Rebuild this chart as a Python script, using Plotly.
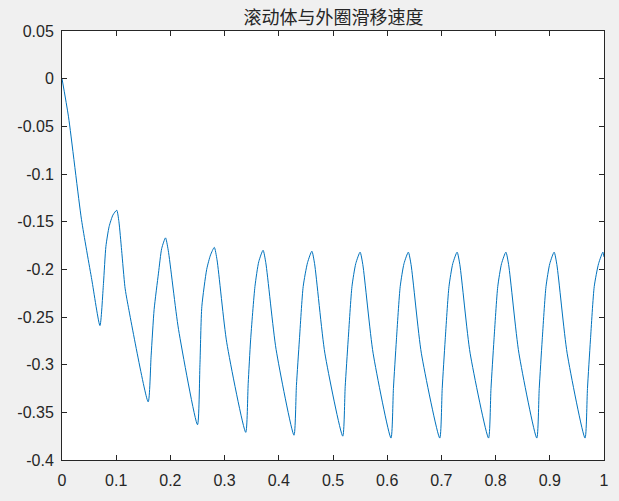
import plotly.graph_objects as go

# Key points (time vs. slip velocity)
t = [0.000, 0.012, 0.036, 0.055, 0.070,
     0.0765, 0.081, 0.087, 0.094, 0.101, 0.105, 0.110, 0.116, 0.119, 0.159,
     0.1645, 0.170, 0.178, 0.184, 0.191, 0.196, 0.215, 0.250,
     0.2545, 0.258, 0.267, 0.274, 0.281, 0.286, 0.304, 0.339,
     0.3435, 0.348, 0.356, 0.363, 0.371, 0.376, 0.395, 0.428,
     0.4325, 0.438, 0.445, 0.453, 0.461, 0.466, 0.485, 0.518,
     0.5225, 0.528, 0.535, 0.542, 0.550, 0.555, 0.574, 0.607,
     0.6115, 0.617, 0.624, 0.631, 0.639, 0.644, 0.663, 0.697,
     0.7015, 0.707, 0.714, 0.721, 0.729, 0.734, 0.753, 0.787,
     0.7915, 0.797, 0.804, 0.811, 0.819, 0.824, 0.843, 0.876,
     0.8805, 0.886, 0.893, 0.900, 0.908, 0.913, 0.932, 0.965,
     0.9695, 0.975, 0.982, 0.990, 0.998, 1.000]
v = [0.000, -0.040, -0.148, -0.211, -0.259,
     -0.215, -0.176, -0.155, -0.143, -0.138, -0.150, -0.180, -0.218, -0.229, -0.339,
     -0.290, -0.242, -0.204, -0.178, -0.167, -0.180, -0.263, -0.363,
     -0.300, -0.239, -0.200, -0.185, -0.177, -0.190, -0.277, -0.371,
     -0.320, -0.274, -0.218, -0.192, -0.180, -0.193, -0.284, -0.374,
     -0.322, -0.274, -0.218, -0.193, -0.181, -0.194, -0.288, -0.375,
     -0.323, -0.274, -0.218, -0.194, -0.182, -0.195, -0.288, -0.377,
     -0.325, -0.274, -0.218, -0.194, -0.182, -0.195, -0.288, -0.377,
     -0.325, -0.274, -0.218, -0.194, -0.182, -0.195, -0.288, -0.377,
     -0.325, -0.274, -0.218, -0.194, -0.182, -0.195, -0.288, -0.377,
     -0.325, -0.274, -0.218, -0.194, -0.182, -0.195, -0.288, -0.377,
     -0.325, -0.274, -0.218, -0.194, -0.182, -0.187]

x_ticks = [0, 0.1, 0.2, 0.3, 0.4, 0.5, 0.6, 0.7, 0.8, 0.9, 1]
x_tick_text = ["0", "0.1", "0.2", "0.3", "0.4", "0.5", "0.6", "0.7", "0.8", "0.9", "1"]
y_ticks = [0.05, 0, -0.05, -0.1, -0.15, -0.2, -0.25, -0.3, -0.35, -0.4]
y_tick_text = ["0.05", "0", "-0.05", "-0.1", "-0.15", "-0.2", "-0.25", "-0.3", "-0.35", "-0.4"]
title_text = "滚动体与外圈滑移速度"

fig = go.Figure()
fig.add_trace(go.Scatter(
    x=t, y=v, mode="lines",
    line=dict(color="#0072BD", width=1, shape="spline", smoothing=0.6),
    hoverinfo="skip", showlegend=False,
))

axis_common = dict(
    showgrid=False, zeroline=False, showline=True, linecolor="#262626",
    linewidth=1, mirror="ticks", ticks="inside", ticklen=5, tickwidth=1,
    tickcolor="#262626", automargin=False,
    tickfont=dict(family="Liberation Sans, Arial, sans-serif", size=16, color="#262626"),
)

fig.update_layout(
    width=619, height=501,
    margin=dict(l=62, r=15, t=31, b=41),
    paper_bgcolor="#f0f0f0", plot_bgcolor="#ffffff",
    title=dict(text=title_text, x=333.5 / 619, xanchor="center",
               y=1 - 17.5 / 501, yanchor="middle",
               font=dict(family="Noto Sans CJK SC", size=18, color="#262626")),
    xaxis=dict(range=[0, 1], tickvals=x_ticks, ticktext=x_tick_text,
               ticklabelstandoff=6, **axis_common),
    yaxis=dict(range=[-0.4, 0.05], tickvals=y_ticks, ticktext=y_tick_text,
               ticklabelstandoff=4, **axis_common),
)

fig.write_html(
    "out.html",
    config={"displayModeBar": False},
    post_script="document.body.style.margin='0';document.body.style.background='#f0f0f0';document.body.style.overflow='hidden';",
)
